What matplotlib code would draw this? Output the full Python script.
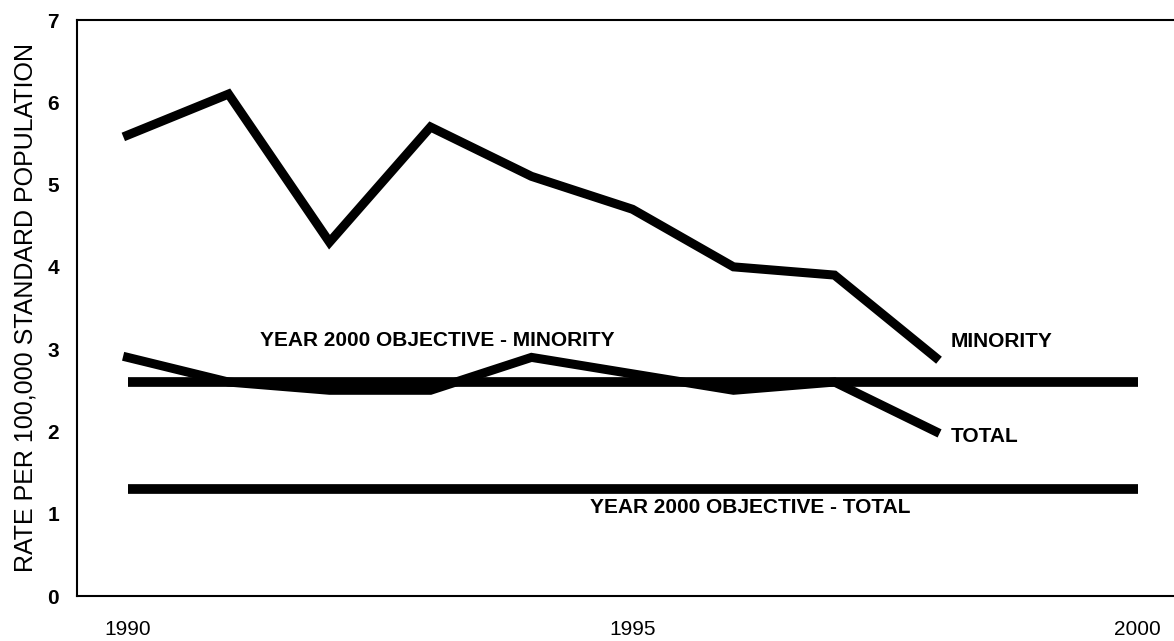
import matplotlib
matplotlib.use("Agg")
import matplotlib.pyplot as plt

plt.rcParams['font.family'] = ['Liberation Sans', 'DejaVu Sans']

years = [1990, 1991, 1992, 1993, 1994, 1995, 1996, 1997, 1998]
minority = [5.6, 6.1, 4.3, 5.7, 5.1, 4.7, 4.0, 3.9, 2.9]
total = [2.9, 2.6, 2.5, 2.5, 2.9, 2.7, 2.5, 2.6, 2.0]
objective_years = [1990, 2000]
objective_minority = [2.6, 2.6]
objective_total = [1.3, 1.3]
x_ticks = [1990, 1995, 2000]
y_ticks = [0, 1, 2, 3, 4, 5, 6, 7]

fig = plt.figure(figsize=(11.74, 6.41), dpi=100)
# axes runs a little past the right edge, like the scanned original
ax = fig.add_axes([77 / 1174, 45 / 641, 1111 / 1174, 576 / 641])

ax.plot(years, minority, color="black", linewidth=6.5, solid_joinstyle="miter")
ax.plot(years, total, color="black", linewidth=6.5, solid_joinstyle="miter")
ax.plot(objective_years, objective_minority, color="black", linewidth=7, solid_capstyle="butt")
ax.plot(objective_years, objective_total, color="black", linewidth=7, solid_capstyle="butt")

label_kw = dict(fontsize=15, fontweight="bold", va="center")
ax.text(1993.07, 3.1, "YEAR 2000 OBJECTIVE - MINORITY", ha="center", **label_kw)
ax.text(1998.15, 3.09, "MINORITY", ha="left", **label_kw)
ax.text(1998.15, 1.94, "TOTAL", ha="left", **label_kw)
ax.text(1996.17, 1.08, "YEAR 2000 OBJECTIVE - TOTAL", ha="center", **label_kw)

ax.set_xlim(1989.5, 2000.5)
ax.set_ylim(0, 7)
ax.set_xticks(x_ticks)
ax.set_yticks(y_ticks)
ax.tick_params(length=0, labelsize=15)
ax.tick_params(axis="x", pad=17)
ax.tick_params(axis="y", pad=13)
for lbl in ax.get_yticklabels():
    lbl.set_fontweight("bold")
ax.set_ylabel("RATE PER 100,000 STANDARD POPULATION", fontsize=18, labelpad=7)

for side in ["left", "bottom", "top"]:
    ax.spines[side].set_linewidth(1.5)
ax.spines["right"].set_visible(False)

fig.savefig("out.png", dpi=100)
